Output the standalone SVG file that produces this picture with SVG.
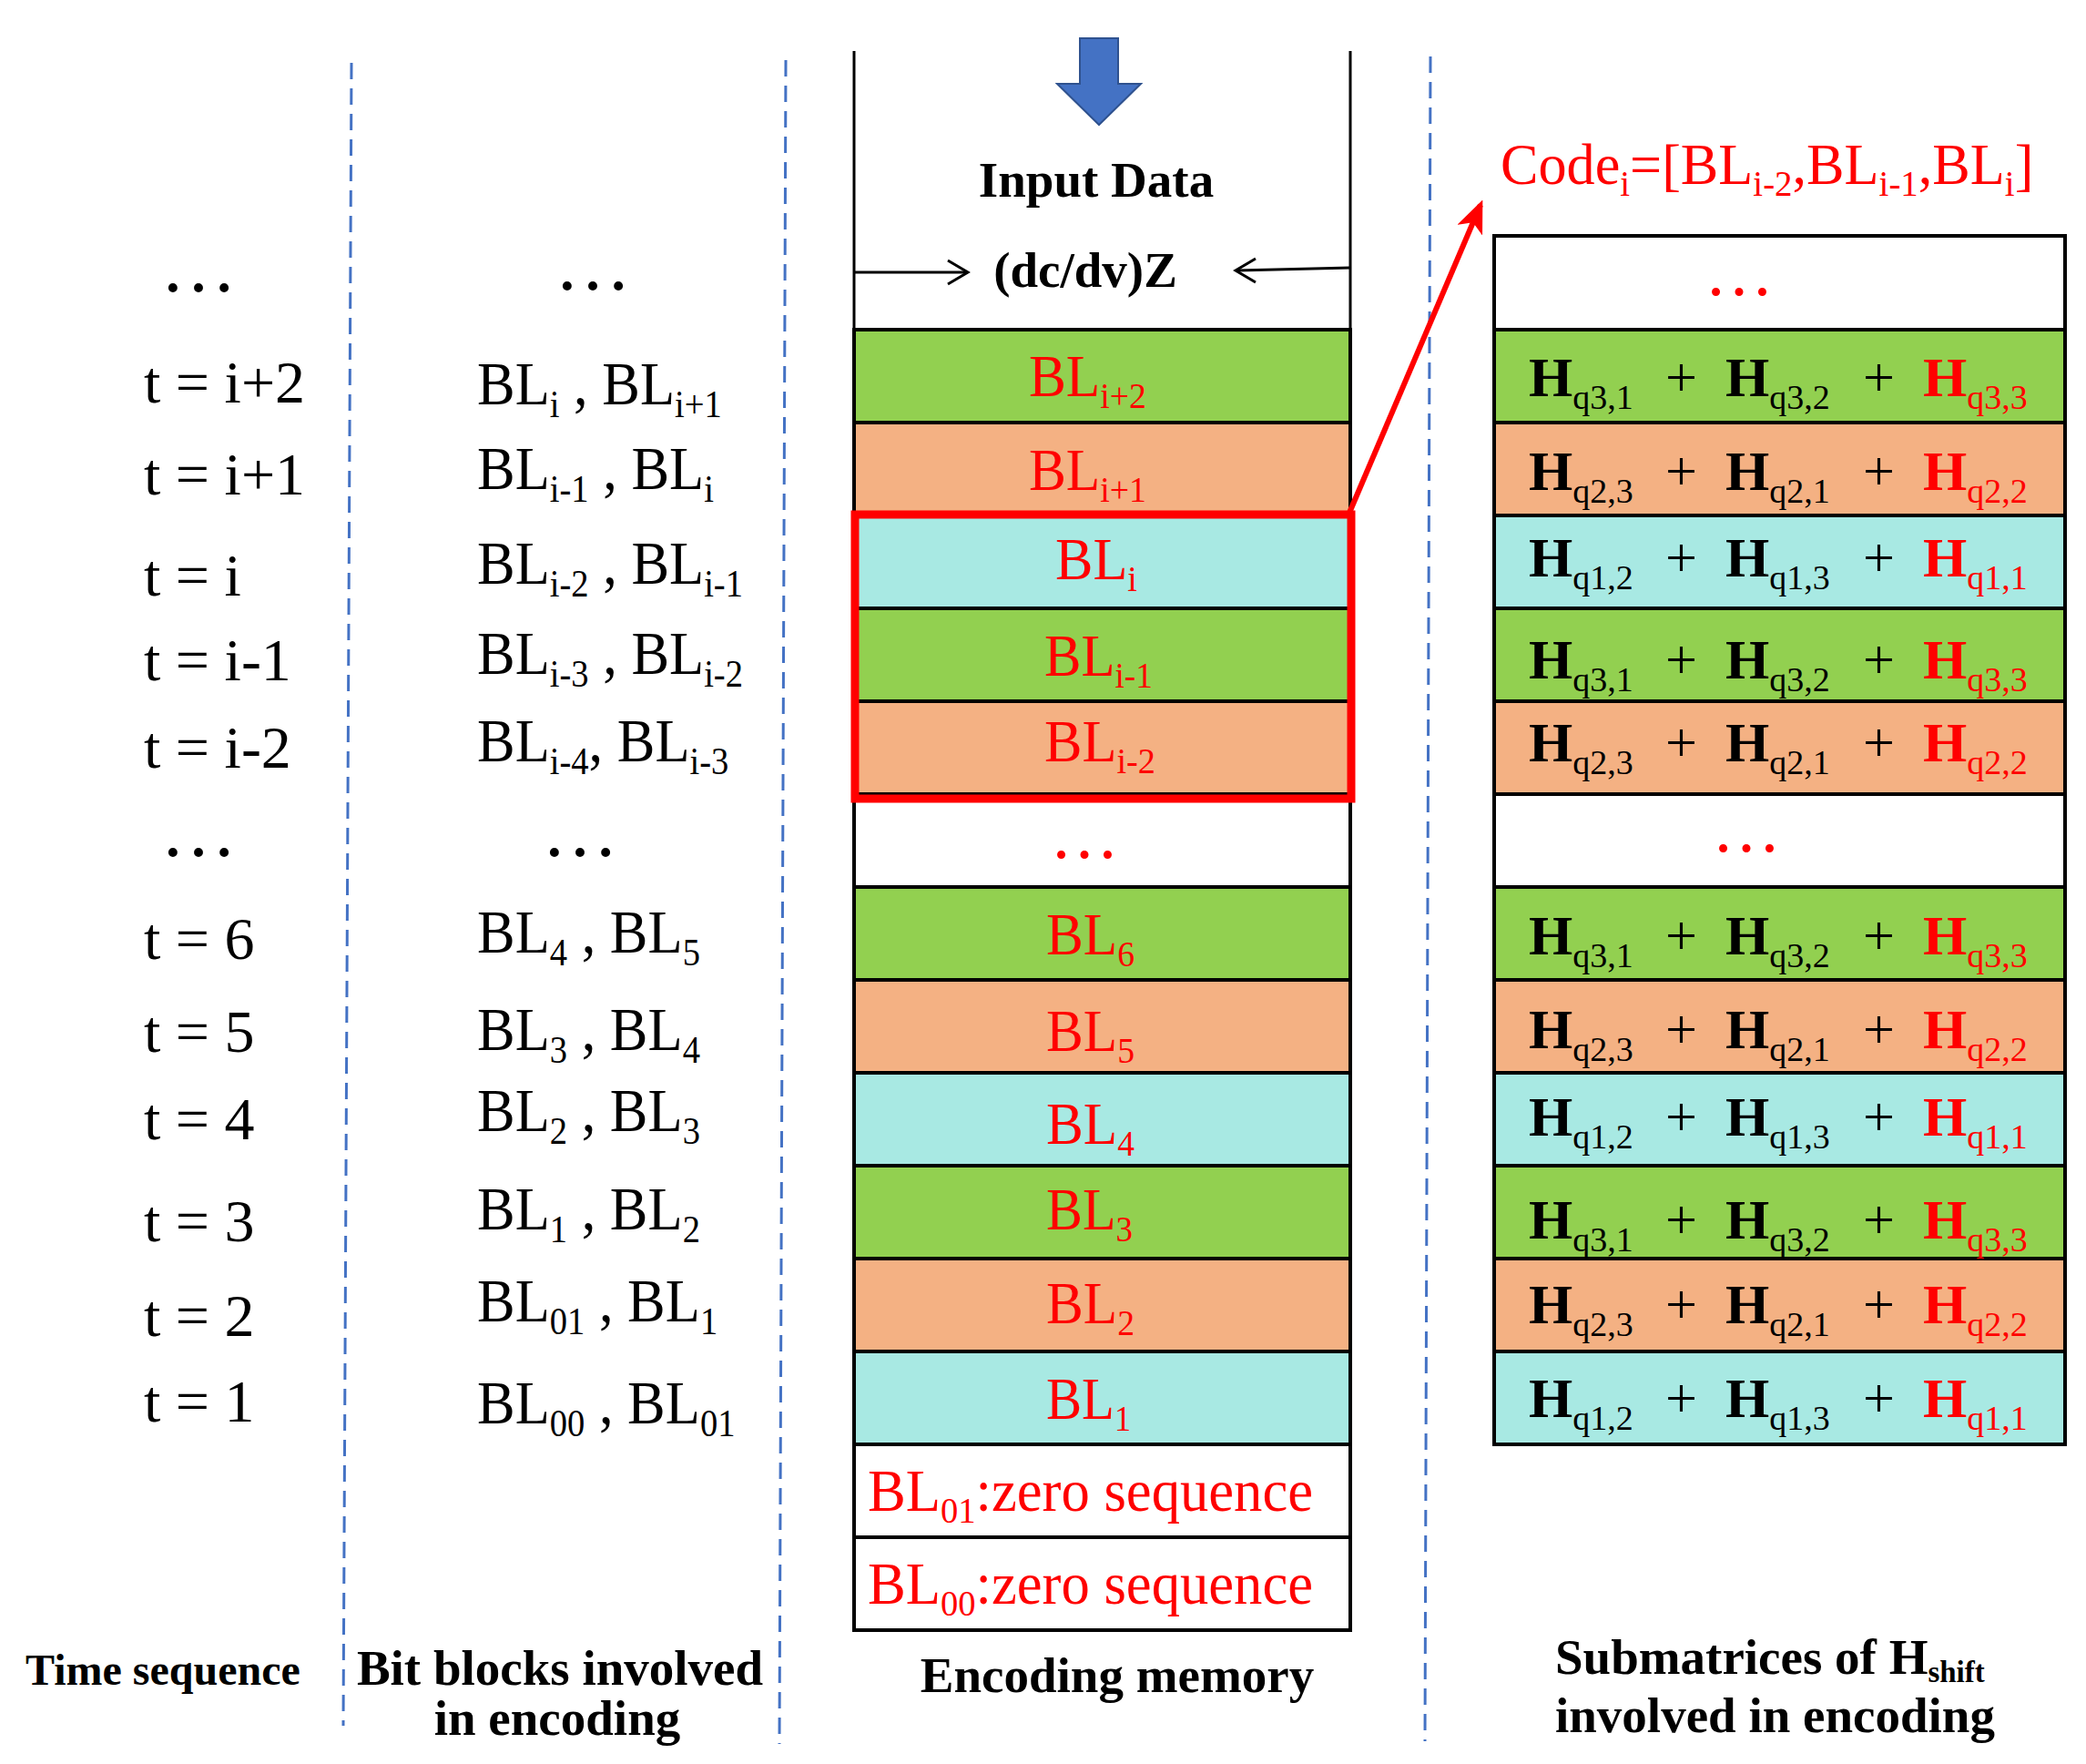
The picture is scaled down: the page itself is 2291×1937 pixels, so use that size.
<svg xmlns="http://www.w3.org/2000/svg" width="2291" height="1937" viewBox="0 0 2291 1937">
<style>
text{font-family:"Liberation Serif","Times New Roman",serif;}
.b{font-weight:bold;}
.r{fill:#FF0000;}
.lt{font-size:66px;}
.mt{font-size:68px;}
.em{font-size:65px;}
.ht{font-size:62px;}
.lab{font-size:55px;font-weight:bold;}
.dots{font-size:84px;}
.dots2{font-size:76px;}
.g{fill:#92D050;stroke:#000;stroke-width:4;}
.o{fill:#F4B183;stroke:#000;stroke-width:4;}
.c{fill:#A8E9E3;stroke:#000;stroke-width:4;}
.w{fill:#FFFFFF;stroke:#000;stroke-width:4;}
.dash{stroke:#4472C4;stroke-width:3;stroke-dasharray:18 10;fill:none;}
.ln{stroke:#000;stroke-width:3;fill:none;}
</style>
<defs>
<marker id="redhead" viewBox="0 0 12 10" refX="10" refY="5" markerWidth="6" markerHeight="5" orient="auto" markerUnits="strokeWidth">
<path d="M0,0 L12,5 L0,10 L3,5 Z" fill="#FF0000"/>
</marker>
</defs>
<rect width="2291" height="1937" fill="#FFFFFF"/>

<g id="dividers">
<line class="dash" x1="386" y1="69" x2="377" y2="1895"/>
<line class="dash" x1="863" y1="66" x2="856" y2="1915"/>
<line class="dash" x1="1571" y1="62" x2="1565" y2="1912"/>
</g>

<g id="time-sequence">
<text class="dots" x="176" y="320">…</text>
<text class="lt" x="158" y="442">t = i+2</text>
<text class="lt" x="158" y="543">t = i+1</text>
<text class="lt" x="158" y="654">t = i</text>
<text class="lt" x="158" y="747">t = i-1</text>
<text class="lt" x="158" y="843">t = i-2</text>
<text class="dots" x="176" y="940">…</text>
<text class="lt" x="158" y="1053">t = 6</text>
<text class="lt" x="158" y="1155">t = 5</text>
<text class="lt" x="158" y="1251">t = 4</text>
<text class="lt" x="158" y="1363">t = 3</text>
<text class="lt" x="158" y="1467">t = 2</text>
<text class="lt" x="158" y="1561">t = 1</text>
<text class="b" x="28" y="1850" style="font-size:48px">Time sequence</text>
</g>

<g id="bit-blocks">
<text class="dots" x="609" y="318">…</text>
<text class="dots" x="595" y="940">…</text>
<g transform="matrix(0.918 0 0 1 42.97 0)">
<text class="mt" x="524" y="444">BL<tspan font-size="42" dy="14">i</tspan><tspan dy="-14"> , BL</tspan><tspan font-size="42" dy="14">i+1</tspan></text>
<text class="mt" x="524" y="537">BL<tspan font-size="42" dy="14">i-1</tspan><tspan dy="-14"> , BL</tspan><tspan font-size="42" dy="14">i</tspan></text>
<text class="mt" x="524" y="641">BL<tspan font-size="42" dy="14">i-2</tspan><tspan dy="-14"> , BL</tspan><tspan font-size="42" dy="14">i-1</tspan></text>
<text class="mt" x="524" y="740">BL<tspan font-size="42" dy="14">i-3</tspan><tspan dy="-14"> , BL</tspan><tspan font-size="42" dy="14">i-2</tspan></text>
<text class="mt" x="524" y="836">BL<tspan font-size="42" dy="14">i-4</tspan><tspan dy="-14">, BL</tspan><tspan font-size="42" dy="14">i-3</tspan></text>
<text class="mt" x="524" y="1046">BL<tspan font-size="42" dy="14">4</tspan><tspan dy="-14"> , BL</tspan><tspan font-size="42" dy="14">5</tspan></text>
<text class="mt" x="524" y="1153">BL<tspan font-size="42" dy="14">3</tspan><tspan dy="-14"> , BL</tspan><tspan font-size="42" dy="14">4</tspan></text>
<text class="mt" x="524" y="1242">BL<tspan font-size="42" dy="14">2</tspan><tspan dy="-14"> , BL</tspan><tspan font-size="42" dy="14">3</tspan></text>
<text class="mt" x="524" y="1350">BL<tspan font-size="42" dy="14">1</tspan><tspan dy="-14"> , BL</tspan><tspan font-size="42" dy="14">2</tspan></text>
<text class="mt" x="524" y="1451">BL<tspan font-size="42" dy="14">01</tspan><tspan dy="-14"> , BL</tspan><tspan font-size="42" dy="14">1</tspan></text>
<text class="mt" x="524" y="1563">BL<tspan font-size="42" dy="14">00</tspan><tspan dy="-14"> , BL</tspan><tspan font-size="42" dy="14">01</tspan></text>
</g>
<text class="lab" x="615" y="1850" text-anchor="middle">Bit blocks involved</text>
<text class="lab" x="612" y="1905" text-anchor="middle">in encoding</text>
</g>

<g id="encoding-memory">
<polygon points="1186,42 1228,42 1228,92 1253,92 1207,137 1161,92 1186,92" fill="#4472C4" stroke="#2F528F" stroke-width="2"/>
<line class="ln" x1="938" y1="56" x2="938" y2="362"/>
<line class="ln" x1="1483" y1="56" x2="1483" y2="362"/>
<text class="lab" x="1204" y="216" text-anchor="middle">Input Data</text>
<text class="lab" x="1192" y="315" text-anchor="middle">(dc/dv)Z</text>
<rect class="g" x="938" y="362" width="545" height="102"/>
<rect class="o" x="938" y="464" width="545" height="102"/>
<rect class="c" x="938" y="566" width="545" height="102"/>
<rect class="g" x="938" y="668" width="545" height="102"/>
<rect class="o" x="938" y="770" width="545" height="102"/>
<rect class="w" x="938" y="872" width="545" height="102"/>
<rect class="g" x="938" y="974" width="545" height="102"/>
<rect class="o" x="938" y="1076" width="545" height="102"/>
<rect class="c" x="938" y="1178" width="545" height="102"/>
<rect class="g" x="938" y="1280" width="545" height="102"/>
<rect class="o" x="938" y="1382" width="545" height="102"/>
<rect class="c" x="938" y="1484" width="545" height="102"/>
<rect class="w" x="938" y="1586" width="545" height="102"/>
<rect class="w" x="938" y="1688" width="545" height="102"/>
<text class="em r" x="1130" y="435" transform="matrix(0.943 0 0 1 64.4 0)">BL<tspan font-size="40" dy="13">i+2</tspan></text>
<text class="em r" x="1130" y="538" transform="matrix(0.943 0 0 1 64.4 0)">BL<tspan font-size="40" dy="13">i+1</tspan></text>
<text class="em r" x="1159" y="636" transform="matrix(0.955 0 0 1 52.2 0)">BL<tspan font-size="40" dy="13">i</tspan></text>
<text class="em r" x="1147" y="742" transform="matrix(0.933 0 0 1 76.8 0)">BL<tspan font-size="40" dy="13">i-1</tspan></text>
<text class="em r" x="1147" y="836" transform="matrix(0.957 0 0 1 49.3 0)">BL<tspan font-size="40" dy="13">i-2</tspan></text>
<text class="dots2 r" x="1153" y="942">…</text>
<text class="em r" x="1149" y="1048" transform="matrix(0.941 0 0 1 67.8 0)">BL<tspan font-size="40" dy="13">6</tspan></text>
<text class="em r" x="1149" y="1154" transform="matrix(0.941 0 0 1 67.8 0)">BL<tspan font-size="40" dy="13">5</tspan></text>
<text class="em r" x="1149" y="1256" transform="matrix(0.941 0 0 1 67.8 0)">BL<tspan font-size="40" dy="13">4</tspan></text>
<text class="em r" x="1149" y="1350" transform="matrix(0.921 0 0 1 90.8 0)">BL<tspan font-size="40" dy="13">3</tspan></text>
<text class="em r" x="1149" y="1453" transform="matrix(0.941 0 0 1 67.8 0)">BL<tspan font-size="40" dy="13">2</tspan></text>
<text class="em r" x="1149" y="1558" transform="matrix(0.902 0 0 1 112.6 0)">BL<tspan font-size="40" dy="13">1</tspan></text>
<text class="em r" x="953" y="1659" transform="matrix(0.964 0 0 1 34.3 0)">BL<tspan font-size="40" dy="13">01</tspan><tspan dy="-13">:zero sequence</tspan></text>
<text class="em r" x="953" y="1761" transform="matrix(0.964 0 0 1 34.3 0)">BL<tspan font-size="40" dy="13">00</tspan><tspan dy="-13">:zero sequence</tspan></text>
<rect x="939" y="565" width="545" height="312" fill="none" stroke="#FF0000" stroke-width="9"/>
<text class="lab" x="1227" y="1858" text-anchor="middle">Encoding memory</text>
</g>

<g id="submatrices">
<rect class="w" x="1641" y="259" width="627" height="103"/>
<rect class="g" x="1641" y="362" width="627" height="102"/>
<rect class="o" x="1641" y="464" width="627" height="102"/>
<rect class="c" x="1641" y="566" width="627" height="102"/>
<rect class="g" x="1641" y="668" width="627" height="102"/>
<rect class="o" x="1641" y="770" width="627" height="102"/>
<rect class="w" x="1641" y="872" width="627" height="102"/>
<rect class="g" x="1641" y="974" width="627" height="102"/>
<rect class="o" x="1641" y="1076" width="627" height="102"/>
<rect class="c" x="1641" y="1178" width="627" height="102"/>
<rect class="g" x="1641" y="1280" width="627" height="102"/>
<rect class="o" x="1641" y="1382" width="627" height="102"/>
<rect class="c" x="1641" y="1484" width="627" height="102"/>
<text class="dots2 r" x="1872" y="324">…</text>
<text class="dots2 r" x="1880" y="935">…</text>

<text class="ht" y="435"><tspan x="1679" class="b">H</tspan><tspan font-size="38" dy="14">q3,1</tspan><tspan x="1829" dy="-14">+</tspan><tspan x="1895" class="b">H</tspan><tspan font-size="38" dy="14">q3,2</tspan><tspan x="2046" dy="-14">+</tspan><tspan x="2112" class="b r">H</tspan><tspan class="r" font-size="38" dy="14">q3,3</tspan></text>
<text class="ht" y="538"><tspan x="1679" class="b">H</tspan><tspan font-size="38" dy="14">q2,3</tspan><tspan x="1829" dy="-14">+</tspan><tspan x="1895" class="b">H</tspan><tspan font-size="38" dy="14">q2,1</tspan><tspan x="2046" dy="-14">+</tspan><tspan x="2112" class="b r">H</tspan><tspan class="r" font-size="38" dy="14">q2,2</tspan></text>
<text class="ht" y="633"><tspan x="1679" class="b">H</tspan><tspan font-size="38" dy="14">q1,2</tspan><tspan x="1829" dy="-14">+</tspan><tspan x="1895" class="b">H</tspan><tspan font-size="38" dy="14">q1,3</tspan><tspan x="2046" dy="-14">+</tspan><tspan x="2112" class="b r">H</tspan><tspan class="r" font-size="38" dy="14">q1,1</tspan></text>
<text class="ht" y="745"><tspan x="1679" class="b">H</tspan><tspan font-size="38" dy="14">q3,1</tspan><tspan x="1829" dy="-14">+</tspan><tspan x="1895" class="b">H</tspan><tspan font-size="38" dy="14">q3,2</tspan><tspan x="2046" dy="-14">+</tspan><tspan x="2112" class="b r">H</tspan><tspan class="r" font-size="38" dy="14">q3,3</tspan></text>
<text class="ht" y="836"><tspan x="1679" class="b">H</tspan><tspan font-size="38" dy="14">q2,3</tspan><tspan x="1829" dy="-14">+</tspan><tspan x="1895" class="b">H</tspan><tspan font-size="38" dy="14">q2,1</tspan><tspan x="2046" dy="-14">+</tspan><tspan x="2112" class="b r">H</tspan><tspan class="r" font-size="38" dy="14">q2,2</tspan></text>
<text class="ht" y="1048"><tspan x="1679" class="b">H</tspan><tspan font-size="38" dy="14">q3,1</tspan><tspan x="1829" dy="-14">+</tspan><tspan x="1895" class="b">H</tspan><tspan font-size="38" dy="14">q3,2</tspan><tspan x="2046" dy="-14">+</tspan><tspan x="2112" class="b r">H</tspan><tspan class="r" font-size="38" dy="14">q3,3</tspan></text>
<text class="ht" y="1151"><tspan x="1679" class="b">H</tspan><tspan font-size="38" dy="14">q2,3</tspan><tspan x="1829" dy="-14">+</tspan><tspan x="1895" class="b">H</tspan><tspan font-size="38" dy="14">q2,1</tspan><tspan x="2046" dy="-14">+</tspan><tspan x="2112" class="b r">H</tspan><tspan class="r" font-size="38" dy="14">q2,2</tspan></text>
<text class="ht" y="1247"><tspan x="1679" class="b">H</tspan><tspan font-size="38" dy="14">q1,2</tspan><tspan x="1829" dy="-14">+</tspan><tspan x="1895" class="b">H</tspan><tspan font-size="38" dy="14">q1,3</tspan><tspan x="2046" dy="-14">+</tspan><tspan x="2112" class="b r">H</tspan><tspan class="r" font-size="38" dy="14">q1,1</tspan></text>
<text class="ht" y="1360"><tspan x="1679" class="b">H</tspan><tspan font-size="38" dy="14">q3,1</tspan><tspan x="1829" dy="-14">+</tspan><tspan x="1895" class="b">H</tspan><tspan font-size="38" dy="14">q3,2</tspan><tspan x="2046" dy="-14">+</tspan><tspan x="2112" class="b r">H</tspan><tspan class="r" font-size="38" dy="14">q3,3</tspan></text>
<text class="ht" y="1453"><tspan x="1679" class="b">H</tspan><tspan font-size="38" dy="14">q2,3</tspan><tspan x="1829" dy="-14">+</tspan><tspan x="1895" class="b">H</tspan><tspan font-size="38" dy="14">q2,1</tspan><tspan x="2046" dy="-14">+</tspan><tspan x="2112" class="b r">H</tspan><tspan class="r" font-size="38" dy="14">q2,2</tspan></text>
<text class="ht" y="1556"><tspan x="1679" class="b">H</tspan><tspan font-size="38" dy="14">q1,2</tspan><tspan x="1829" dy="-14">+</tspan><tspan x="1895" class="b">H</tspan><tspan font-size="38" dy="14">q1,3</tspan><tspan x="2046" dy="-14">+</tspan><tspan x="2112" class="b r">H</tspan><tspan class="r" font-size="38" dy="14">q1,1</tspan></text>

<text class="r" x="1648" y="202" style="font-size:64px" transform="matrix(0.972 0 0 1 46.1 0)">Code<tspan font-size="40" dy="13">i</tspan><tspan dy="-13">=[BL</tspan><tspan font-size="40" dy="13">i-2</tspan><tspan dy="-13">,BL</tspan><tspan font-size="40" dy="13">i-1</tspan><tspan dy="-13">,BL</tspan><tspan font-size="40" dy="13">i</tspan><tspan dy="-13">]</tspan></text>
<text class="lab" x="1708" y="1838">Submatrices of H<tspan font-size="33" dy="9">shift</tspan></text>
<text class="lab" x="1708" y="1902">involved in encoding</text>
</g>

<g id="connectors">
<line class="ln" x1="938" y1="299" x2="1061" y2="299"/>
<polyline class="ln" points="1041,286 1063,299 1041,312"/>
<line class="ln" x1="1483" y1="294" x2="1359" y2="297"/>
<polyline class="ln" points="1379,284 1357,297 1379,310"/>
<line x1="1482" y1="563" x2="1626" y2="225" stroke="#FF0000" stroke-width="6" marker-end="url(#redhead)"/>
</g>
</svg>
